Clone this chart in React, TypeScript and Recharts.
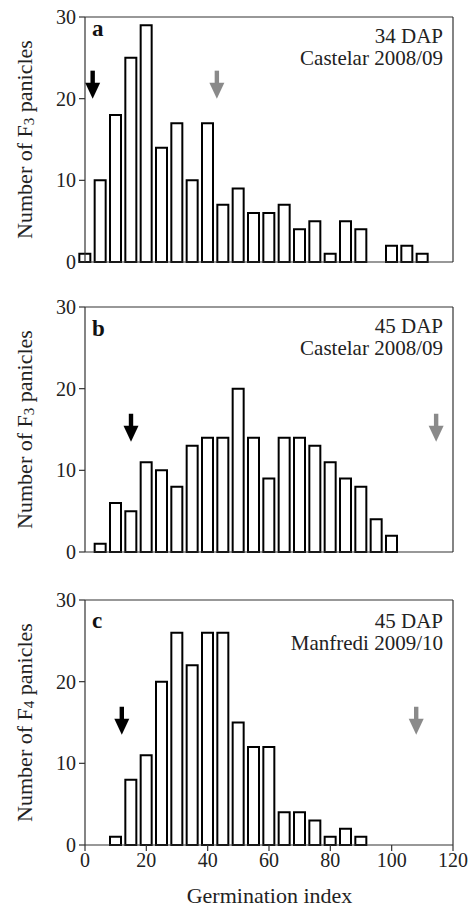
import React from 'react'
import { Bar, ComposedChart, ReferenceDot, ReferenceLine, XAxis, YAxis } from 'recharts'

// Germination index bins (bin centres) and panicle counts per panel
const BINS_A = [0, 5, 10, 15, 20, 25, 30, 35, 40, 45, 50, 55, 60, 65, 70, 75, 80, 85, 90, 95, 100, 105, 110]
const COUNTS_A = [1, 10, 18, 25, 29, 14, 17, 10, 17, 7, 9, 6, 6, 7, 4, 5, 1, 5, 4, 0, 2, 2, 1]

const BINS_B = [5, 10, 15, 20, 25, 30, 35, 40, 45, 50, 55, 60, 65, 70, 75, 80, 85, 90, 95, 100]
const COUNTS_B = [1, 6, 5, 11, 10, 8, 13, 14, 14, 20, 14, 9, 14, 14, 13, 11, 9, 8, 4, 2]

const BINS_C = [10, 15, 20, 25, 30, 35, 40, 45, 50, 55, 60, 65, 70, 75, 80, 85, 90]
const COUNTS_C = [1, 8, 11, 20, 26, 22, 26, 26, 15, 12, 12, 4, 4, 3, 1, 2, 1]

// parental means marked by arrows (x = germination index, y = arrow tip)
const ARROWS_A = [
  { x: 2.5, y: 20, parent: 'black' },
  { x: 43, y: 20, parent: 'grey' },
]
const ARROWS_B = [
  { x: 15, y: 13.5, parent: 'black' },
  { x: 114.5, y: 13.5, parent: 'grey' },
]
const ARROWS_C = [
  { x: 12, y: 13.5, parent: 'black' },
  { x: 108, y: 13.5, parent: 'grey' },
]

const X_TICKS = [0, 20, 40, 60, 80, 100, 120]
const Y_TICKS = [0, 10, 20, 30]

const FONT = '"Liberation Serif", "Times New Roman", serif'
const AXIS = '#333'
const TICK_STYLE = { fontFamily: FONT, fontSize: 20, fill: '#222' }

const arrowShape = (color: string) => (props: any) => {
  const { cx, cy } = props
  return (
    <g>
      <rect x={cx - 2.2} y={cy - 28} width={4.4} height={13} fill={color} />
      <path d={`M${cx - 7.5},${cy - 16} L${cx + 7.5},${cy - 16} L${cx},${cy} Z`} fill={color} />
    </g>
  )
}

interface PanelProps {
  bins: number[]
  counts: number[]
  arrows: { x: number; y: number; parent: string }[]
  letter: string
  letterY: number
  line1: string
  line2: string
  line1Y: number
  sub: string
  top: number
  height: number
  marginTop: number
  marginBottom: number
  showX: boolean
}

function Panel(p: PanelProps) {
  const data = p.bins.map((b, i) => ({ gi: b, n: p.counts[i] }))
  const plotTop = p.marginTop
  const plotH = p.height - p.marginTop - p.marginBottom
  const midY = plotTop + plotH / 2
  return (
    <div style={{ position: 'absolute', left: 0, top: p.top }}>
      <ComposedChart
        width={474}
        height={p.height}
        data={data}
        margin={{ top: p.marginTop, right: 21, left: 25, bottom: 0 }}
      >
        <XAxis
          dataKey="gi"
          type="number"
          domain={[0, 120]}
          ticks={X_TICKS}
          interval={0}
          height={p.marginBottom}
          stroke={AXIS}
          strokeWidth={1.2}
          tickSize={6}
          tickMargin={2}
          tick={p.showX ? TICK_STYLE : false}
        />
        <YAxis
          type="number"
          domain={[0, 30]}
          ticks={Y_TICKS}
          interval={0}
          width={60}
          stroke={AXIS}
          strokeWidth={1.2}
          tickSize={6}
          tickMargin={3}
          tick={TICK_STYLE}
        />
        <ReferenceLine y={30} stroke={AXIS} strokeWidth={1.2} />
        <ReferenceLine x={120} stroke={AXIS} strokeWidth={1.2} />
        <Bar
          dataKey="n"
          barSize={11}
          fill="#fff"
          stroke="#000"
          strokeWidth={2}
          isAnimationActive={false}
        />
        {p.arrows.map((a) => (
          <ReferenceDot
            key={a.parent}
            x={a.x}
            y={a.y}
            shape={arrowShape(a.parent === 'black' ? '#000' : '#8a8a8a')}
          />
        ))}
        <text x={92} y={p.letterY} fontFamily={FONT} fontSize={23} fontWeight="bold" fill="#111">
          {p.letter}
        </text>
        <text x={443} y={p.line1Y} textAnchor="end" fontFamily={FONT} fontSize={21} fill="#222">
          {p.line1}
        </text>
        <text x={443} y={p.line1Y + 22} textAnchor="end" fontFamily={FONT} fontSize={21} fill="#222">
          {p.line2}
        </text>
        <text
          x={24}
          y={midY}
          transform={`rotate(-90, 24, ${midY})`}
          textAnchor="middle"
          dominantBaseline="central"
          fontFamily={FONT}
          fontSize={22}
          fill="#222"
        >
          Number of F
          <tspan fontSize={15} dy={5}>
            {p.sub}
          </tspan>
          <tspan dy={-5}> panicles</tspan>
        </text>
        {p.showX && (
          <text x={269.5} y={p.height - 5} textAnchor="middle" fontFamily={FONT} fontSize={22} fill="#222">
            Germination index
          </text>
        )}
      </ComposedChart>
    </div>
  )
}

export default function App() {
  return (
    <div
      style={{
        position: 'absolute',
        left: 0,
        top: 0,
        width: 474,
        height: 908,
        background: '#fff',
        overflow: 'hidden',
      }}
    >
      <Panel
        bins={BINS_A}
        counts={COUNTS_A}
        arrows={ARROWS_A}
        letter="a"
        letterY={36}
        line1="34 DAP"
        line1Y={43}
        line2="Castelar 2008/09"
        sub="3"
        top={0}
        height={290}
        marginTop={17}
        marginBottom={28}
        showX={false}
      />
      <Panel
        bins={BINS_B}
        counts={COUNTS_B}
        arrows={ARROWS_B}
        letter="b"
        letterY={46}
        line1="45 DAP"
        line1Y={43}
        line2="Castelar 2008/09"
        sub="3"
        top={290}
        height={290}
        marginTop={17}
        marginBottom={28}
        showX={false}
      />
      <Panel
        bins={BINS_C}
        counts={COUNTS_C}
        arrows={ARROWS_C}
        letter="c"
        letterY={48}
        line1="45 DAP"
        line1Y={48}
        line2="Manfredi 2009/10"
        sub="4"
        top={580}
        height={328}
        marginTop={20}
        marginBottom={63}
        showX={true}
      />
    </div>
  )
}
